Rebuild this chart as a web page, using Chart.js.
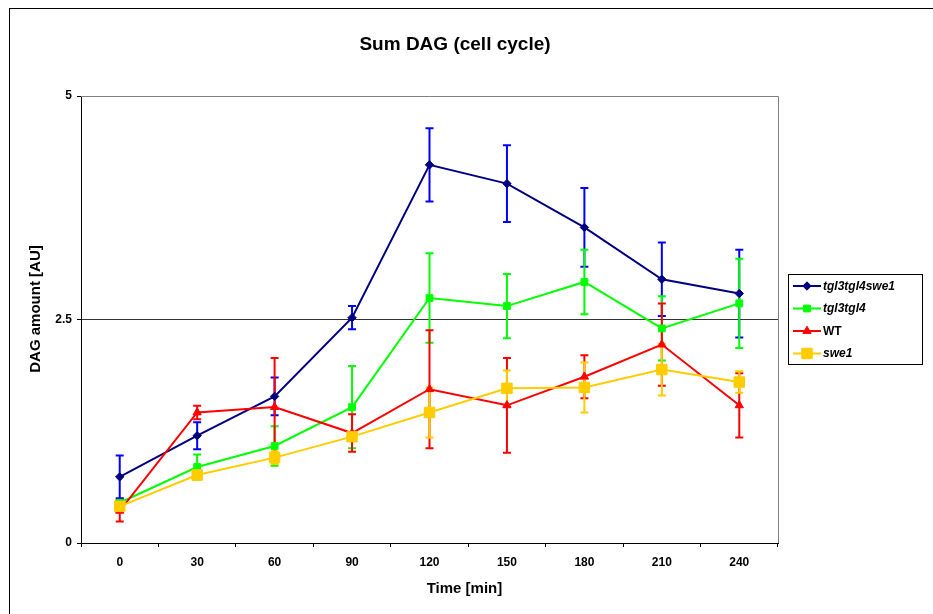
<!DOCTYPE html>
<html>
<head>
<meta charset="utf-8">
<script src="https://cdn.jsdelivr.net/npm/chart.js@4/dist/chart.umd.min.js"></script>
<style>
html,body{margin:0;padding:0;background:#fff;overflow:hidden;width:933px;height:614px;}
#wrap{position:relative;width:933px;height:614px;}
#frame{position:absolute;left:9px;top:8px;width:950px;height:650px;border:1px solid #000;box-sizing:border-box;pointer-events:none;}
canvas{position:absolute;left:0;top:0;}
</style>
</head>
<body>
<div id="wrap"><canvas id="c" width="933" height="614"></canvas><div id="frame"></div></div>
<script>
// ---- data ----
const times = ['0', '30', '60', '90', '120', '150', '180', '210', '240'];
const seriesNames = ['tgl3tgl4swe1', 'tgl3tgl4', 'WT', 'swe1'];
const tgl3tgl4swe1 = [0.74, 1.20, 1.64, 2.52, 4.23, 4.02, 3.53, 2.95, 2.79];
const tgl3tgl4swe1Err = [0.24, 0.15, 0.21, 0.13, 0.41, 0.43, 0.44, 0.41, 0.49];
const tgl3tgl4 = [0.45, 0.85, 1.085, 1.52, 2.74, 2.65, 2.92, 2.40, 2.68];
const tgl3tgl4Err = [0.03, 0.14, 0.22, 0.46, 0.50, 0.36, 0.36, 0.36, 0.50];
const WT = [0.36, 1.46, 1.52, 1.23, 1.72, 1.54, 1.86, 2.22, 1.54];
const WTErr = [0.12, 0.075, 0.55, 0.21, 0.66, 0.53, 0.24, 0.46, 0.36];
const swe1 = [0.41, 0.76, 0.955, 1.19, 1.46, 1.73, 1.74, 1.94, 1.80];
const swe1Err = [0.04, 0.04, 0.07, 0.05, 0.28, 0.20, 0.28, 0.29, 0.12];
const yTicks = [0, 2.5, 5];
const chartTitle = 'Sum DAG (cell cycle)';
const xTitle = 'Time [min]';
const yTitle = 'DAG amount [AU]';

// ---- styling ----
const FONT = "'Liberation Sans', Arial, sans-serif";
const styles = [
  {line: '#000080', bar: '#0000FF', point: 'rectRot', radius: 4.2, italic: true},
  {line: '#00FF00', bar: '#00FF00', point: 'rect', radius: 4.8, italic: true},
  {line: '#FF0000', bar: '#FF0000', point: 'triangle', radius: 4.8, italic: false},
  {line: '#FFCC00', bar: '#FFCC00', point: 'rect', radius: 7.4, italic: false}
];
styles[3].italic = true;
const values = [tgl3tgl4swe1, tgl3tgl4, WT, swe1];
const errors = [tgl3tgl4swe1Err, tgl3tgl4Err, WTErr, swe1Err];

const datasets = seriesNames.map((name, i) => ({
  label: name,
  data: values[i],
  errors: errors[i],
  errColor: styles[i].bar,
  borderColor: styles[i].line,
  backgroundColor: styles[i].line,
  pointBackgroundColor: styles[i].line,
  pointBorderColor: styles[i].line,
  pointBorderWidth: 1,
  pointStyle: styles[i].point,
  pointRadius: styles[i].radius,
  borderWidth: 2,
  tension: 0,
  order: 4 - i
}));

const errorBars = {
  id: 'errorBars',
  beforeDatasetsDraw(chart) {
    const ctx = chart.ctx, ys = chart.scales.y;
    ctx.save();
    chart.data.datasets.forEach((ds, i) => {
      const meta = chart.getDatasetMeta(i);
      ctx.strokeStyle = ds.errColor;
      ctx.lineWidth = 2;
      meta.data.forEach((pt, j) => {
        const v = ds.data[j], e = ds.errors[j];
        const yt = ys.getPixelForValue(v + e), yb = ys.getPixelForValue(v - e);
        const x = pt.x;
        ctx.beginPath();
        ctx.moveTo(x, yt); ctx.lineTo(x, yb);
        ctx.moveTo(x - 4, yt); ctx.lineTo(x + 4, yt);
        ctx.moveTo(x - 4, yb); ctx.lineTo(x + 4, yb);
        ctx.stroke();
      });
    });
    ctx.restore();
  }
};

const frameAndText = {
  id: 'frameAndText',
  beforeDatasetsDraw(chart) {
    const {ctx, chartArea: a} = chart;
    ctx.save();
    ctx.strokeStyle = '#808080';
    ctx.lineWidth = 1;
    ctx.beginPath();
    ctx.moveTo(a.left, a.top + 0.5); ctx.lineTo(a.right + 0.5, a.top + 0.5);
    ctx.lineTo(a.right + 0.5, a.bottom);
    ctx.stroke();
    ctx.restore();
  },
  afterDraw(chart) {
    const {ctx, chartArea: a} = chart;
    ctx.save();
    ctx.fillStyle = '#000';
    // axis titles
    ctx.font = 'bold 15px ' + FONT;
    ctx.textAlign = 'center';
    ctx.textBaseline = 'middle';
    ctx.fillText(xTitle, (a.left + a.right) / 2 + 35, a.bottom + 46);
    ctx.save();
    ctx.translate(a.left - 45, (a.top + a.bottom) / 2 - 10.5);
    ctx.rotate(-Math.PI / 2);
    ctx.fillText(yTitle, 0, 0);
    ctx.restore();
    // legend
    const bx = a.right + 10.5, by = 274.5, bw = 134, bh = 90;
    ctx.strokeStyle = '#000';
    ctx.lineWidth = 1;
    ctx.strokeRect(bx, by, bw, bh);
    chart.data.datasets.forEach((ds, i) => {
      const y = by + 11.5 + i * 22.5;
      const st = styles[i];
      ctx.strokeStyle = st.line;
      ctx.fillStyle = st.line;
      ctx.lineWidth = 2;
      ctx.beginPath();
      ctx.moveTo(bx + 4.5, y); ctx.lineTo(bx + 32.5, y);
      ctx.stroke();
      ctx.lineWidth = 1;
      Chart.helpers.drawPoint(ctx, {pointStyle: st.point, radius: st.radius, rotation: 0, borderWidth: 1}, bx + 18.5, y);
      ctx.fillStyle = '#000';
      ctx.textAlign = 'left';
      ctx.textBaseline = 'middle';
      ctx.font = (st.italic ? 'italic ' : '') + 'bold 12px ' + FONT;
      ctx.fillText(ds.label, bx + 34.5, y + 0.5);
    });
    ctx.restore();
  }
};

new Chart(document.getElementById('c'), {
  type: 'line',
  data: {labels: times, datasets},
  options: {
    responsive: false,
    animation: false,
    devicePixelRatio: 1,
    layout: {padding: {left: 0, right: 23, top: 0, bottom: 0}},
    plugins: {
      legend: {display: false},
      tooltip: {enabled: false},
      title: {
        display: true,
        text: chartTitle,
        color: '#000',
        font: {family: FONT, size: 19, weight: 'bold', lineHeight: 1.2},
        padding: {top: 33.6, bottom: 39.6}
      }
    },
    scales: {
      x: {
        type: 'category',
        offset: true,
        grid: {offset: true, drawOnChartArea: false, drawTicks: true, tickLength: 4, tickColor: '#000', color: '#000'},
        border: {color: '#000', width: 1},
        ticks: {color: '#000', font: {family: FONT, size: 12, weight: 'bold'}, padding: 8, maxRotation: 0, autoSkip: false},
        afterFit: s => { s.height = 71; }
      },
      y: {
        min: 0, max: 5,
        afterBuildTicks: s => { s.ticks = yTicks.map(v => ({value: v})); },
        grid: {
          color: c => (c.tick && c.tick.value === 2.5) ? '#333333' : 'rgba(0,0,0,0)',
          tickColor: '#000', tickLength: 4, lineWidth: 1
        },
        border: {color: '#000', width: 1},
        ticks: {color: '#000', font: {family: FONT, size: 12, weight: 'bold'}, padding: 5},
        afterFit: s => { s.width = 81; }
      },
      yR: {
        position: 'right',
        display: true,
        grid: {display: false},
        border: {display: false},
        ticks: {display: false},
        afterFit: s => { s.width = 132; }
      }
    }
  },
  plugins: [errorBars, frameAndText]
});
</script>
</body>
</html>
